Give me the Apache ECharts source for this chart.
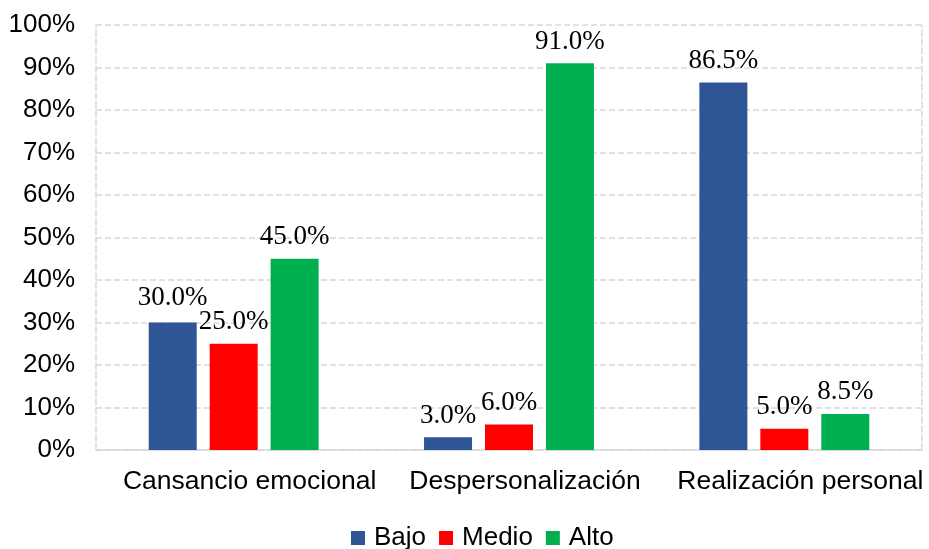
<!DOCTYPE html>
<html>
<head>
<meta charset="utf-8">
<script src="https://cdn.jsdelivr.net/npm/echarts@6/dist/echarts.min.js"></script>
<style>
    html, body { margin: 0; padding: 0; background: #fff; }
    #chart { width: 929px; height: 549px; }
</style>
</head>
<body>
<div id="chart"></div>
<script>
    // datos
    let categorias = ['Cansancio emocional', 'Despersonalización', 'Realización personal'];
    let bajo = [30.0, 3.0, 86.5];
    let medio = [25.0, 6.0, 5.0];
    let alto = [45.0, 91.0, 8.5];
    let nombres = ['Bajo', 'Medio', 'Alto'];
    let colores = ['#2F5597', '#FF0000', '#00B050'];

    let chart = echarts.init(document.getElementById('chart'));

    function serie(nombre, datos, color) {
        return {
            name: nombre,
            type: 'bar',
            data: datos.map(function (v, i) {
                // la etiqueta 30.0% va un poco mas alta en el original
                if (nombre === 'Bajo' && i === 0) {
                    return { value: v, label: { distance: 11 } };
                }
                return v;
            }),
            barWidth: 48,
            barGap: '27%',
            itemStyle: { color: color },
            label: {
                show: true,
                position: 'top',
                distance: 8,
                fontFamily: 'Liberation Serif',
                fontSize: 27,
                color: '#000',
                formatter: function (p) { return p.value.toFixed(1) + '%'; }
            }
        };
    }

    chart.setOption({
        animation: false,
        textStyle: { fontFamily: 'Liberation Sans' },
        grid: { left: 96, right: 7, top: 25, bottom: 99, containLabel: false },
        legend: {
            top: 520,
            left: 346,
            itemWidth: 14,
            itemHeight: 14,
            itemGap: 13,
            icon: 'rect',
            textStyle: { fontSize: 26, color: '#000', fontFamily: 'Liberation Sans', padding: [0, 0, 0, 4] },
            data: nombres
        },
        xAxis: {
            type: 'category',
            data: categorias,
            axisTick: { show: false },
            axisLine: { lineStyle: { color: '#d9d9d9', width: 1.5 } },
            // en el original las etiquetas estan algo corridas a la derecha
            axisLabel: { fontSize: 26.5, color: '#000', margin: 18, interval: 0, padding: [0, 0, 0, 32] }
        },
        yAxis: [{
            type: 'value',
            min: 0,
            max: 100,
            interval: 10,
            axisLabel: { fontSize: 26, color: '#000', margin: 21, formatter: '{value}%' },
            axisLine: { show: true, lineStyle: { color: '#d9d9d9', type: 'dashed', width: 1.5 } },
            axisTick: { show: false },
            splitLine: { lineStyle: { color: '#d9d9d9', type: 'dashed', width: 1.5 } }
        }, {
            type: 'value',
            position: 'right',
            min: 0,
            max: 100,
            interval: 10,
            axisLabel: { show: false },
            axisLine: { show: true, lineStyle: { color: '#d9d9d9', type: 'dashed', width: 1.5 } },
            axisTick: { show: false },
            splitLine: { show: false }
        }],
        series: [
            serie(nombres[0], bajo, colores[0]),
            serie(nombres[1], medio, colores[1]),
            serie(nombres[2], alto, colores[2])
        ]
    });

    window.addEventListener('resize', function () {
        chart.resize();
    });
</script>
</body>
</html>
